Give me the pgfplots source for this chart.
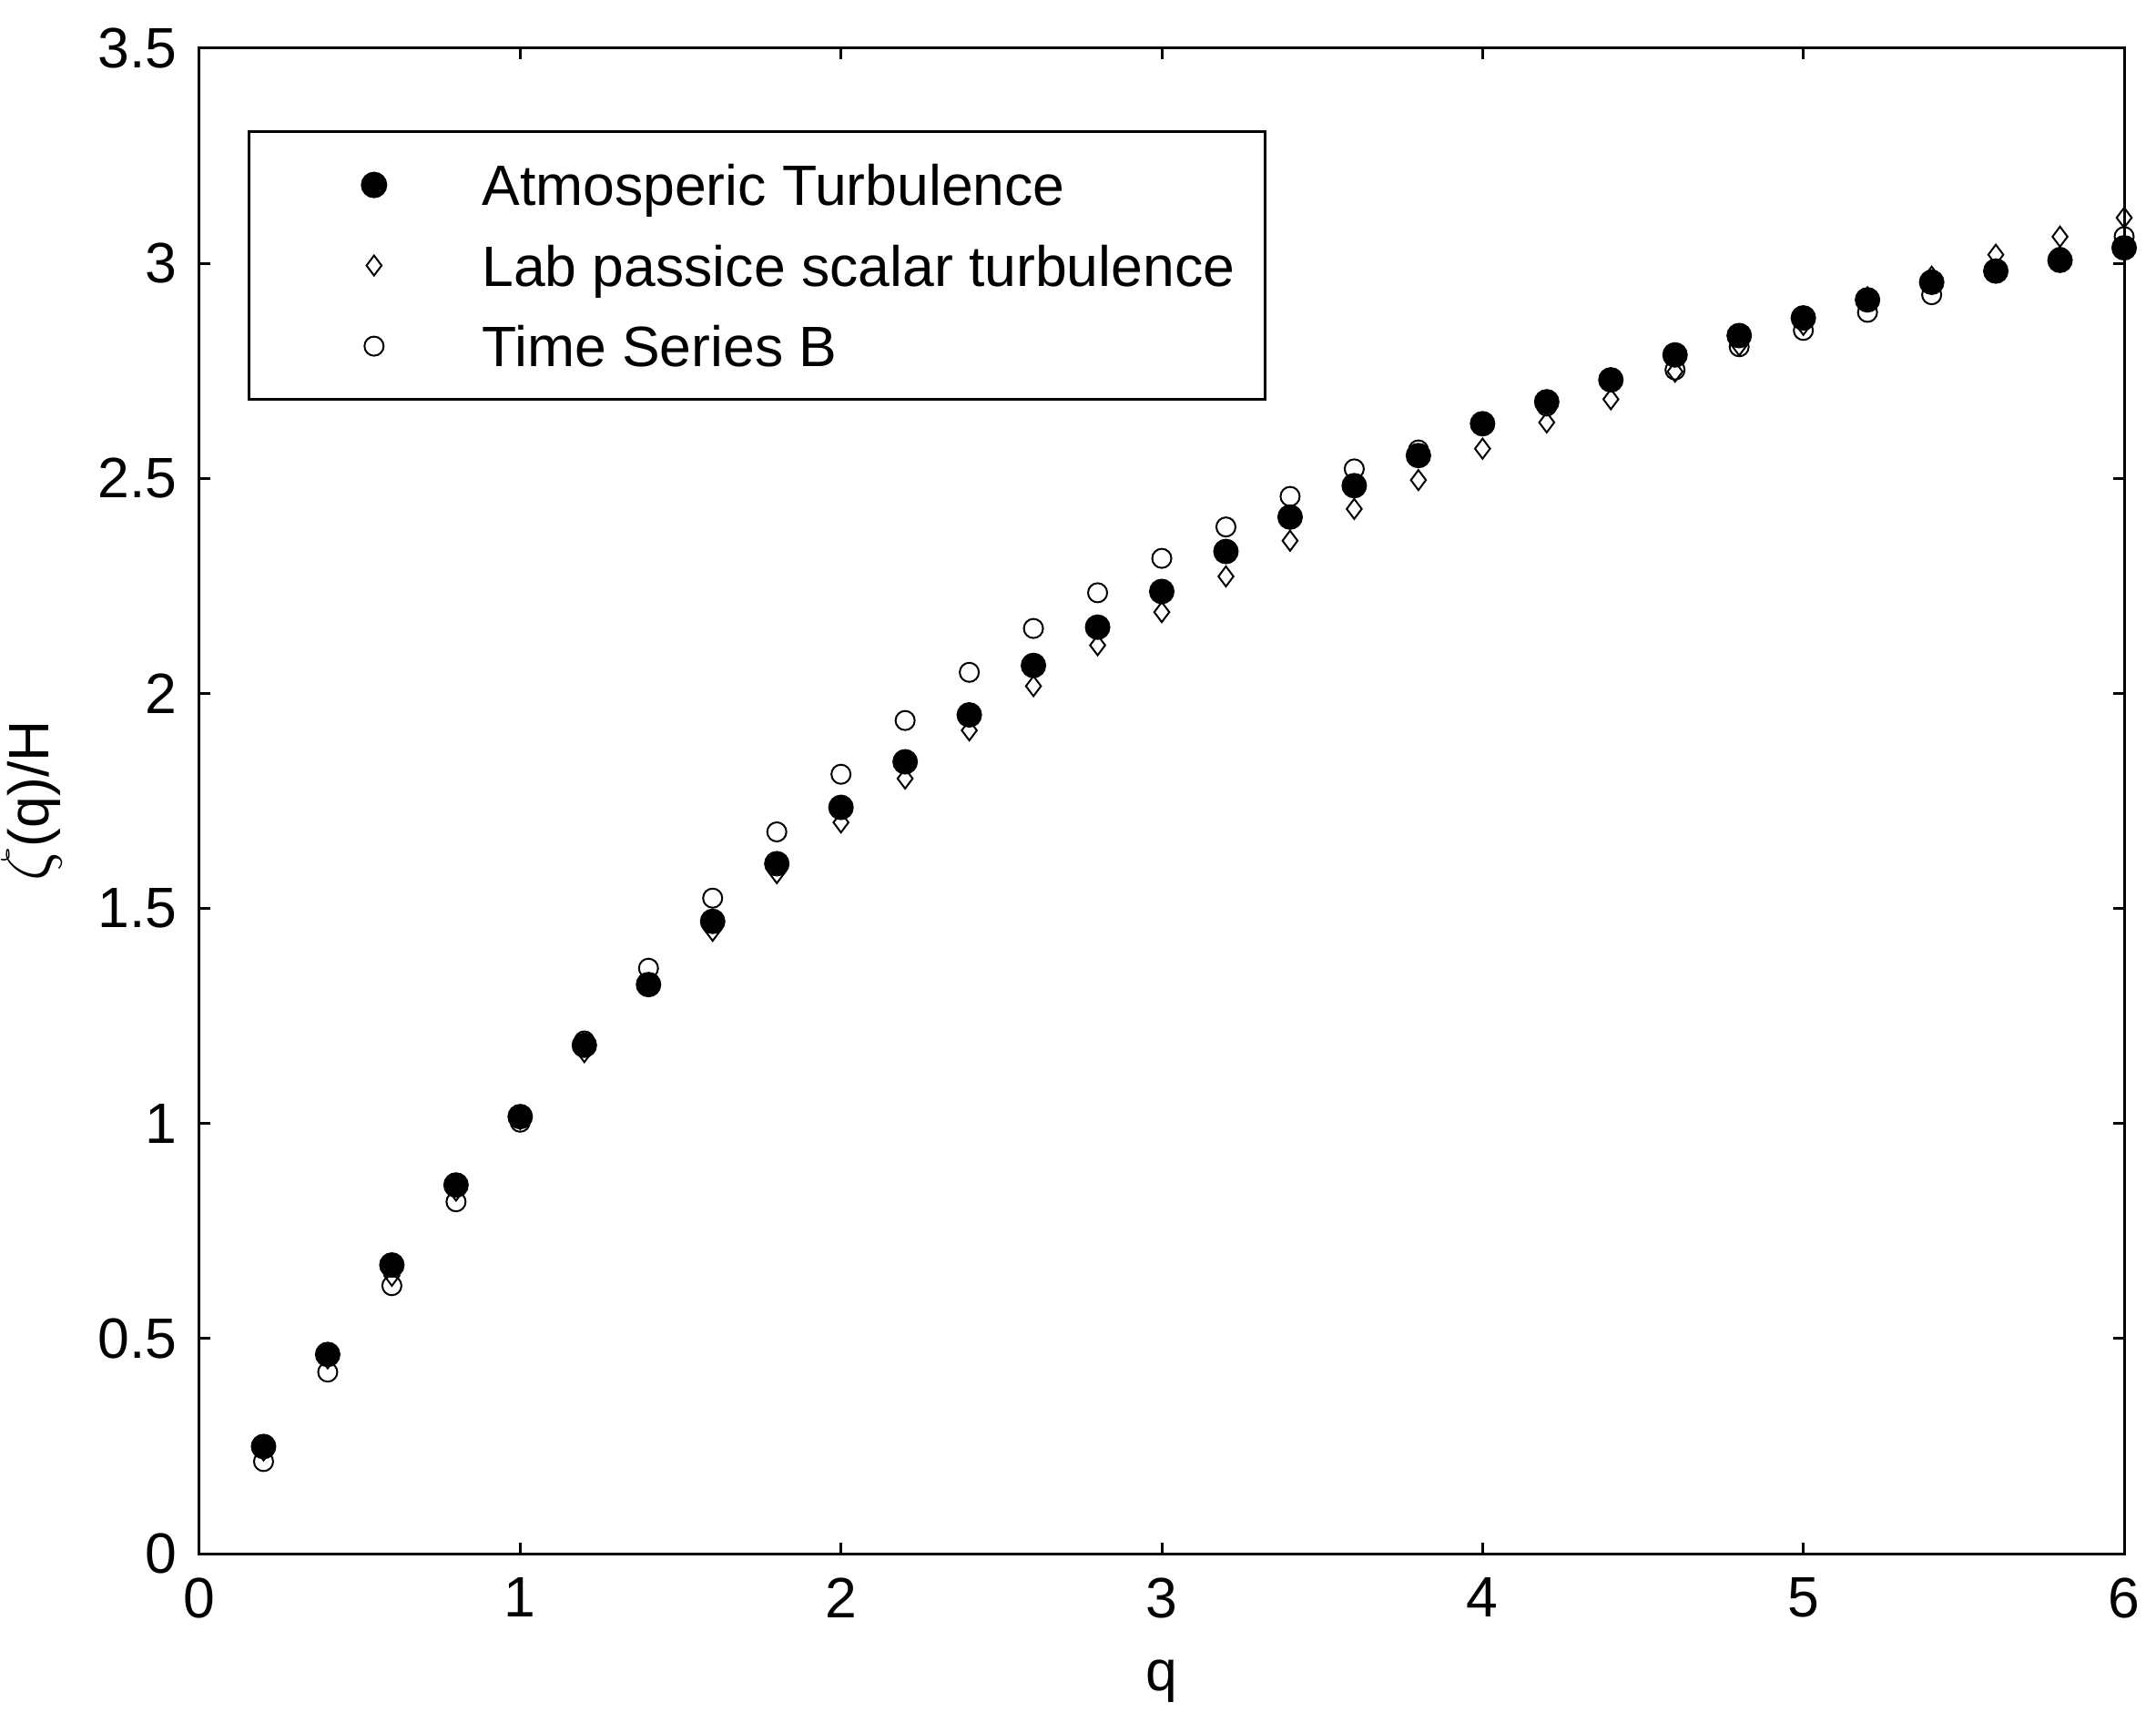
\documentclass[border=0pt]{standalone}
\usepackage{pgfplots}
\pgfplotsset{compat=1.18}
\usepackage{fontspec}
\setmainfont{Liberation Sans}
\begin{document}
\fontsize{12.5pt}{15pt}\selectfont
\begin{tikzpicture}
\useasboundingbox (-43.8pt,-39.2pt) rectangle (429.8pt,341.2pt);
\begin{axis}[
  at={(0pt,0pt)}, anchor=south west,
  scale only axis, width=422.8pt, height=330.6pt,
  xmin=0, xmax=6, ymin=0, ymax=3.5,
  xtick={0,1,2,3,4,5,6},
  ytick={0,0.5,1,1.5,2,2.5,3,3.5},
  tick align=inside, tick pos=both,
  major tick length=2.5pt,
  tick style={black, line width=0.6pt},
  axis line style={black, line width=0.6pt},
  /pgf/number format/assume math mode=true,
  ticklabel style={font=\fontsize{12.5pt}{15pt}\selectfont},
  xticklabel style={yshift=-1pt},
  yticklabel style={xshift=-0.5pt},
  xlabel={q}, ylabel={\scalebox{1.25}{$\zeta$}(q)/H},
  label style={font=\fontsize{12.5pt}{15pt}\selectfont},
  xlabel style={at={(0.5,0)}, anchor=north, yshift=-19pt},
  ylabel style={at={(0,0.5)}, anchor=south, yshift=25.8pt},
  clip=false,
  reverse legend,
  legend style={at={(0.025,0.9455)}, anchor=north west,
    draw=black, line width=0.6pt, inner xsep=0pt, inner ysep=5.7pt,
    row sep=5.7pt,
    nodes={inner xsep=0pt, inner ysep=0pt, text height=10.5pt, text depth=1.5pt,
      font=\fontsize{12.5pt}{15pt}\selectfont}},
  legend cell align=left,
  legend image code/.code={\path (0pt,0pt) (50.6pt,0pt);
    \draw[#1] plot coordinates {(27.2pt,0pt)};},
]
\addplot[only marks, mark=o, mark size=2.1pt, line width=0.4pt, black] coordinates {
(0.2,0.214) (0.4,0.422) (0.6,0.623) (0.8,0.818) (1.0,1.003) (1.2,1.192)
(1.4,1.361) (1.6,1.524) (1.8,1.678) (2.0,1.812) (2.2,1.937) (2.4,2.049)
(2.6,2.151) (2.8,2.234) (3.0,2.314) (3.2,2.387) (3.4,2.458) (3.6,2.522)
(3.8,2.566) (4.0,2.624) (4.2,2.668) (4.4,2.729) (4.6,2.752) (4.8,2.806)
(5.0,2.844) (5.2,2.886) (5.4,2.927) (5.6,2.979) (5.8,3.014) (6.0,3.062)};
\addlegendentry{Time Series B}
\addplot[only marks, mark=diamond, mark size=2.2pt, line width=0.4pt, black] coordinates {
(0.2,0.240) (0.4,0.454) (0.6,0.646) (0.8,0.844) (1.0,1.010) (1.2,1.166)
(1.4,1.323) (1.6,1.448) (1.8,1.582) (2.0,1.700) (2.2,1.802) (2.4,1.914)
(2.6,2.017) (2.8,2.112) (3.0,2.189) (3.2,2.272) (3.4,2.355) (3.6,2.429)
(3.8,2.496) (4.0,2.569) (4.2,2.630) (4.4,2.684) (4.6,2.748) (4.8,2.809)
(5.0,2.857) (5.2,2.921) (5.4,2.969) (5.6,3.020) (5.8,3.062) (6.0,3.106)};
\addlegendentry{Lab passice scalar turbulence\rule{6.6pt}{0pt}}
\addplot[only marks, mark=*, mark size=2.6pt, black, mark options={fill=black}] coordinates {
(0.2,0.249) (0.4,0.463) (0.6,0.671) (0.8,0.857) (1.0,1.016) (1.2,1.182)
(1.4,1.323) (1.6,1.470) (1.8,1.604) (2.0,1.735) (2.2,1.841) (2.4,1.950)
(2.6,2.065) (2.8,2.154) (3.0,2.237) (3.2,2.330) (3.4,2.410) (3.6,2.483)
(3.8,2.553) (4.0,2.627) (4.2,2.678) (4.4,2.729) (4.6,2.787) (4.8,2.832)
(5.0,2.873) (5.2,2.915) (5.4,2.956) (5.6,2.982) (5.8,3.007) (6.0,3.036)};
\addlegendentry{Atmosperic Turbulence}
\end{axis}
\end{tikzpicture}
\end{document}
